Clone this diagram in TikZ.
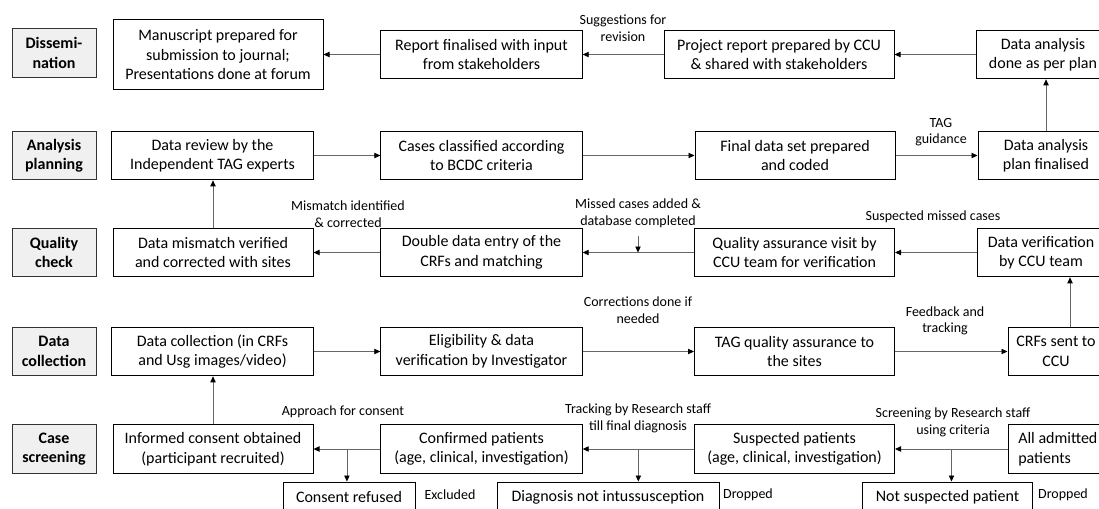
\documentclass[tikz,border=0pt]{standalone}
\usepackage{fontspec}
\setmainfont{Carlito}
\usetikzlibrary{arrows.meta,calc}

\begin{document}
\begin{tikzpicture}[x=0.75pt, y=-0.75pt,
    box/.style={draw, line width=0.75pt, align=center, inner sep=1.5pt, minimum height=36.5pt, font=\fontsize{12}{14.6}\selectfont},
    phase/.style={box, fill=black!6, draw=black!80, minimum width=63pt, font=\fontsize{12}{14.6}\selectfont\bfseries},
    drop/.style={box, minimum height=22.5pt},
    note/.style={align=center, inner sep=0pt, font=\fontsize{10.5}{12.5}\selectfont},
    flow/.style={draw=black!60, line width=0.6pt, -{Triangle[length=4.5pt,width=4pt,color=black]}}]
    \useasboundingbox (0,0) rectangle (1099,508);

    % phase labels
    \node[phase] (ph1) at (54,53) {Dissemi-\\nation};
    \node[phase] (ph2) at (54,155.5) {Analysis\\planning};
    \node[phase] (ph3) at (54,252.5) {Quality\\check};
    \node[phase] (ph4) at (54,351.5) {Data\\collection};
    \node[phase] (ph5) at (54,449) {Case\\screening};

    % dissemination
    \node[box, minimum width=157.5pt, minimum height=52pt] (manu) at (218,54.5) {Manuscript prepared for\\submission to journal;\\Presentations done at forum};
    \node[box, minimum width=151pt] (fin) at (481.5,54.5) {Report finalised with input\\from stakeholders};
    \node[box, minimum width=172.5pt] (proj) at (779,54.5) {Project report prepared by CCU\\\& shared with stakeholders};
    \node[box, minimum width=100pt] (done) at (1043,54.5) {Data analysis\\done as per plan};

    % analysis planning
    \node[box, minimum width=151pt] (review) at (212.5,155.5) {Data review by the\\Independent TAG experts};
    \node[box, minimum width=151pt] (cases) at (481.5,155.5) {Cases classified according\\to BCDC criteria};
    \node[box, minimum width=150pt] (final) at (795,155.5) {Final data set prepared\\and coded};
    \node[box, minimum width=102pt] (plan) at (1046,155.5) {Data analysis\\plan finalised};

    % quality check
    \node[box, minimum width=150pt] (mism) at (213,252.5) {Data mismatch verified\\and corrected with sites};
    \node[box, minimum width=151pt] (double) at (481.5,252.5) {Double data entry of the\\CRFs and matching};
    \node[box, minimum width=150pt] (qav) at (794.5,252.5) {Quality assurance visit by\\CCU team for verification};
    \node[box, minimum width=96pt] (dver) at (1041,252.5) {Data verification\\by CCU team};

    % data collection
    \node[box, minimum width=151pt] (dcol) at (212.5,351.5) {Data collection (in CRFs\\and Usg images/video)};
    \node[box, minimum width=151pt] (elig) at (481.5,351.5) {Eligibility \& data\\verification by Investigator};
    \node[box, minimum width=150pt] (tagqa) at (794.5,351.5) {TAG quality assurance to\\the sites};
    \node[box, minimum width=72pt] (crfs) at (1056,351.5) {CRFs sent to\\CCU};

    % case screening
    \node[box, minimum width=150pt] (consent) at (213,449) {Informed consent obtained\\(participant recruited)};
    \node[box, minimum width=151pt] (conf) at (481.5,449) {Confirmed patients\\(age, clinical, investigation)};
    \node[box, minimum width=150pt] (susp) at (794.5,449) {Suspected patients\\(age, clinical, investigation)};
    \node[box, anchor=west, minimum width=74pt, align=left] (alladm) at (1008,449) {All admitted\\patients};

    % dropped cases
    \node[drop, minimum width=99pt] (refused) at (349,497) {Consent refused};
    \node[drop, minimum width=166.5pt] (notint) at (608,497) {Diagnosis not intussusception};
    \node[drop, minimum width=127pt] (notsusp) at (947.5,497) {Not suspected patient};
    \node[note] (excl) at (450,495) {Excluded};
    \node[note] (drop1) at (748,495) {Dropped};
    \node[note] (drop2) at (1063,495) {Dropped};

    % arrow labels
    \node[note] (sugg) at (623,28) {Suggestions for\\revision};
    \node[note] (tagg) at (941,132) {TAG\\guidance};
    \node[note] (mis) at (348,214) {Mismatch identified\\\& corrected};
    \node[note] (missed) at (638,213) {Missed cases added \&\\database completed};
    \node[note] (smc) at (933,217) {Suspected missed cases};
    \node[note] (corr) at (638,310) {Corrections done if\\needed};
    \node[note] (fb) at (945,321) {Feedback and\\tracking};
    \node[note] (appr) at (343,412) {Approach for consent};
    \node[note] (track) at (638,418) {Tracking by Research staff\\till final diagnosis};
    \node[note] (screen) at (953,422) {Screening by Research staff\\using criteria};

    % flow
    \draw[flow] (done.west) -- (proj.east);
    \draw[flow] (proj.west) -- (fin.east);
    \draw[flow] (fin.west) -- (manu.east);

    \draw[flow] (review.east) -- (cases.west);
    \draw[flow] (cases.east) -- (final.west);
    \draw[flow] (final.east) -- (plan.west);
    \draw[flow] (plan.north) -- (plan.north |- done.south);

    \draw[flow] (dver.west) -- (qav.east);
    \draw[flow] (qav.west) -- (double.east);
    \draw[flow] (double.west) -- (mism.east);
    \draw[flow] (mism.north) -- (mism.north |- review.south);
    \draw[flow] ([yshift=-6pt]missed.south) -- (missed.south |- double.east);

    \draw[flow] (dcol.east) -- (elig.west);
    \draw[flow] (elig.east) -- (tagqa.west);
    \draw[flow] (tagqa.east) -- (crfs.west);
    \draw[flow] ([xshift=10.5pt]crfs.north) -- ([xshift=10.5pt]crfs.north |- dver.south);

    \draw[flow] (alladm.west) -- (susp.east);
    \draw[flow] (susp.west) -- (conf.east);
    \draw[flow] (conf.west) -- (consent.east);
    \draw[flow] (consent.north) -- (consent.north |- dcol.south);

    \coordinate (s1) at ($(susp.east)!0.5!(alladm.west)$);
    \coordinate (s2) at ($(conf.east)!0.5!(susp.west)$);
    \coordinate (s3) at ($(consent.east)!0.5!(conf.west)$);
    \draw[flow] (s1) -- (s1 |- notsusp.north);
    \draw[flow] (s2) -- (s2 |- notint.north);
    \draw[flow] (s3) -- (s3 |- refused.north);
\end{tikzpicture}
\end{document}
